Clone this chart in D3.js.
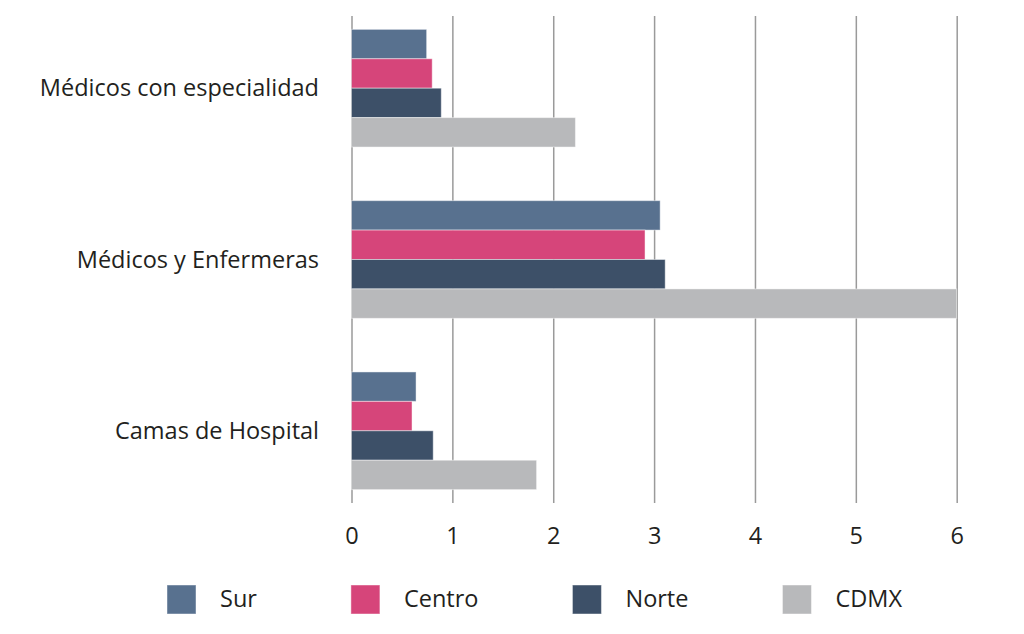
<!DOCTYPE html>
<html>
<head>
<meta charset="utf-8">
<script src="https://cdn.jsdelivr.net/npm/d3@7"></script>
<style>
  body { margin: 0; background: #fff; }
  svg text { font-family: "Open Sans", Lato, sans-serif; fill: #231f20; }
</style>
</head>
<body>
<div id="chart"></div>
<script>
// data
var categories = ["Médicos con especialidad", "Médicos y Enfermeras", "Camas de Hospital"]
var series = ["Sur", "Centro", "Norte", "CDMX"]
var colors = ["#58718f", "#d6457a", "#3d5068", "#b8b9bb"]
var sur = [0.745, 3.06, 0.64]
var centro = [0.80, 2.91, 0.60]
var norte = [0.89, 3.11, 0.81]
var cdmx = [2.22, 6.0, 1.835]
var xTicks = [0, 1, 2, 3, 4, 5, 6]

var values = [sur, centro, norte, cdmx]

var width = 1024
var height = 634
var fontSize = 23.5

var svg = d3.select("#chart")
	.append("svg")
	.attr("width", width)
	.attr("height", height)

var x = d3.scaleLinear().domain([0, 6]).range([351.5, 956.7])
var y = d3.scaleBand()
	.domain(categories)
	.range([16, 503])
	.paddingInner(0.313)
	.paddingOuter(0.078)
var ySub = d3.scaleBand()
	.domain(series)
	.range([0, y.bandwidth()])

// grid lines + tick labels
var axis = svg.append("g")
	.attr("transform", "translate(0,503)")
	.call(d3.axisBottom(x).tickValues(xTicks).tickSize(-(503 - 16)).tickFormat(d3.format("d")))
axis.select(".domain").remove()
axis.selectAll(".tick line")
	.attr("stroke", "#9a9a9a")
	.attr("stroke-width", 1.5)
axis.selectAll(".tick text")
	.attr("y", 41)
	.attr("dy", 0)
	.style("font-size", fontSize + "px")
	.style("font-family", "\"Open Sans\", Lato, sans-serif")
	.attr("fill", "#231f20")

// bars
for (var s = 0; s < series.length; s++) {
	svg.append("g")
		.selectAll("rect")
		.data(categories)
		.enter()
		.append("rect")
		.attr("x", x(0))
		.attr("y", function (d) { return y(d) + ySub(series[s]) })
		.attr("width", function (d, i) { return x(values[s][i]) - x(0) })
		.attr("height", ySub.bandwidth())
		.attr("fill", colors[s])
		.attr("stroke", "rgba(255,255,255,0.45)")
		.attr("stroke-width", 1)
}

// category labels
svg.append("g")
	.selectAll("text")
	.data(categories)
	.enter()
	.append("text")
	.attr("x", 319)
	.attr("y", function (d) { return y(d) + y.bandwidth() / 2 + 8 })
	.attr("text-anchor", "end")
	.style("font-size", fontSize + "px")
	.text(function (d) { return d })

// legend
var legend = svg.append("g")
var lx = 167
for (var k = 0; k < series.length; k++) {
	legend.append("rect")
		.attr("x", lx)
		.attr("y", 585)
		.attr("width", 29)
		.attr("height", 29)
		.attr("fill", colors[k])
		.attr("stroke", "rgba(255,255,255,0.45)")
	var t = legend.append("text")
		.attr("x", lx + 53)
		.attr("y", 607)
		.style("font-size", fontSize + "px")
		.text(series[k])
	lx = lx + 53 + t.node().getComputedTextLength() + 94
}
</script>
</body>
</html>
